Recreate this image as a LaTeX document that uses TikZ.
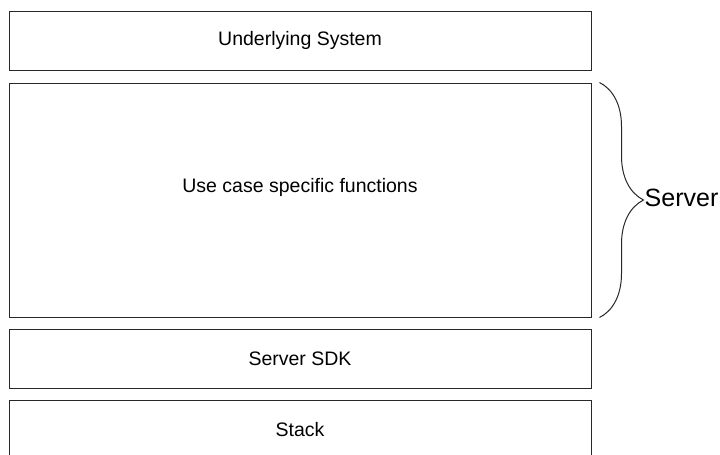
\documentclass[tikz,border=0pt]{standalone}
\usepackage{fontspec}
\setmainfont{Liberation Sans}
\usepackage{tikz}
\usetikzlibrary{positioning, calc, decorations.pathreplacing}
\definecolor{myline}{RGB}{40,40,40}
\tikzset{
  layer/.style={rectangle, draw=myline, fill=white,
    minimum width=582pt, minimum height=59pt,
    font=\fontsize{19.5}{23}\selectfont, line width=1pt, inner sep=0pt},
  bigbox/.style={layer, minimum height=234pt},
  boxtext/.style={font=\fontsize{19.5}{23}\selectfont, inner sep=0pt},
  bracelabel/.style={font=\fontsize{25}{29}\selectfont, anchor=west, inner sep=0pt},
  curly/.style={decorate, decoration={brace, amplitude=44pt}, line width=1pt, color=myline}
}
\begin{document}
\begin{tikzpicture}[x=1pt, y=-1pt]
  \useasboundingbox (0,0) rectangle (720,455);

  % Layers stacked top to bottom
  \node[layer] (system) at (300, 40.5) {Underlying System};
  \node[bigbox] (usecase) at (300, 200) {};
  \node[boxtext] (usecasetext) at ([yshift=13pt]usecase.center) {Use case specific functions};
  \node[layer] (sdk) at (300, 358.5) {Server SDK};
  \node[layer] (stack) at (300, 429.5) {Stack};

  % Brace over the server part
  \coordinate (bracetop) at ([xshift=8pt]usecase.north east);
  \coordinate (bracebot) at ([xshift=8pt]usecase.south east);
  \draw[curly] (bracetop) -- (bracebot);
  \node[bracelabel] (server) at ([xshift=53pt, yshift=2pt]usecase.east) {Server};
\end{tikzpicture}
\end{document}
